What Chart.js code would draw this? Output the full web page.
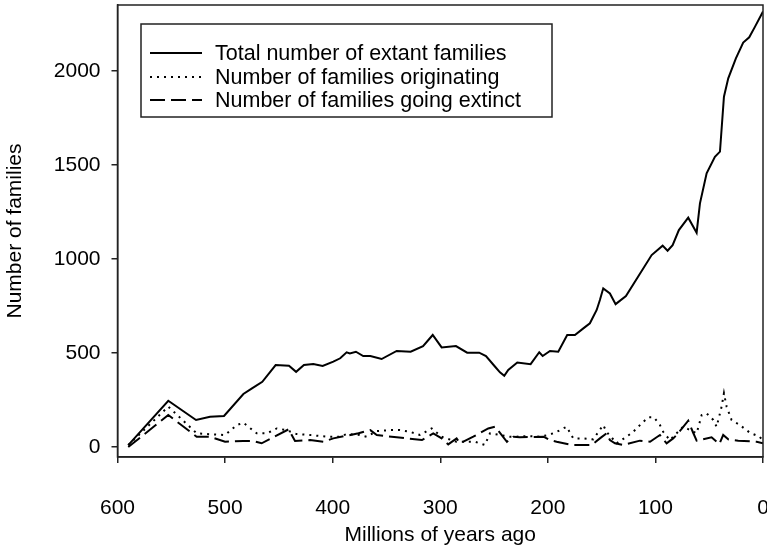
<!DOCTYPE html>
<html>
<head>
<meta charset="utf-8">
<script src="https://cdn.jsdelivr.net/npm/chart.js@4"></script>
<style>
  html, body { margin: 0; padding: 0; background: #fff; }
  #wrap { width: 767px; height: 548px; }
</style>
</head>
<body>
<div id="wrap"><canvas id="familiesChart" width="767" height="548"></canvas></div>
<script>
// ages (Ma) and values
const totalAges = [590, 552.8, 527, 514, 501, 483, 475, 465.4, 453, 440.6, 434, 426.7, 418, 409.3, 399.4, 393, 387, 384, 378.4, 371.6, 365, 354.5, 340.5, 327.5, 316, 307, 298.7, 285.4, 275, 263.8, 257.5, 249, 244.5, 240.5, 236.8, 228.4, 216, 208, 204.8, 198, 190.3, 182, 174.8, 167, 160.9, 154.6, 151.6, 148.5, 142.3, 137, 127.4, 103.5, 93.3, 88.7, 84, 78.2, 69.5, 61.7, 58.6, 52.4, 44.7, 40, 36.3, 32.3, 25.2, 18.4, 12.8, 7.4, 0];
const totalFamilies = [10, 246, 144, 161, 165, 282, 312, 347, 436, 432, 400, 436, 441, 431, 454, 472, 504, 498, 507, 484, 484, 468, 511, 507, 537, 596, 530, 537, 502, 502, 484, 427, 397, 379, 410, 450, 441, 504, 484, 511, 507, 596, 596, 631, 658, 729, 782, 844, 817, 760, 803, 1021, 1071, 1044, 1074, 1154, 1220, 1140, 1296, 1456, 1544, 1571, 1863, 1961, 2067, 2151, 2179, 2236, 2316];

const originAges = [590, 552.8, 526.4, 514, 500, 489, 483, 470.6, 461, 452, 443, 433.5, 421, 405.6, 393, 387, 375, 368.4, 359, 346.7, 337.5, 328, 319, 308, 298.7, 284.8, 275.5, 267.8, 258.5, 253.8, 244.5, 235.3, 229, 218.2, 207.3, 199.6, 193.4, 182.5, 176.4, 167, 157.8, 148.5, 145.5, 136, 126.8, 120.6, 112.8, 106.6, 101.4, 95.8, 92.8, 86.6, 80.3, 74.2, 61.7, 57, 52.4, 46.2, 43.1, 38.5, 36.3, 33.8, 29.2, 21.5, 12.2, 3, 0];
const originFamilies = [10, 215, 73, 68, 64, 117, 129, 73, 73, 99, 90, 69, 64, 55, 55, 69, 64, 55, 85, 90, 90, 81, 64, 99, 55, 28, 28, 28, 11, 73, 64, 55, 55, 58, 55, 64, 76, 108, 46, 46, 41, 117, 81, 20, 55, 81, 126, 158, 158, 117, 81, 37, 73, 108, 73, 170, 179, 144, 108, 214, 286, 214, 144, 117, 76, 55, 30];

const extinctAges = [590, 552.8, 526.4, 514, 500, 483, 474, 466, 455, 441, 435, 421, 408.7, 399.4, 376, 365, 359, 340.5, 317, 306.5, 298.7, 292.6, 284.8, 281.7, 269.3, 255.4, 249, 238, 232, 226, 204, 198, 191.8, 178, 159.3, 151.6, 145.5, 142.3, 137.6, 130, 114.4, 105, 95.8, 89.6, 83.5, 80.3, 69.5, 64.9, 61.7, 47.8, 40.6, 37, 32.3, 23, 5.9, 0];
const extinctFamilies = [0, 170, 55, 55, 28, 32, 32, 20, 52, 94, 32, 37, 28, 46, 73, 90, 64, 52, 37, 73, 46, 14, 46, 20, 55, 99, 108, 28, 55, 52, 55, 37, 28, 11, 11, 46, 73, 37, 20, 11, 34, 28, 64, 20, 46, 64, 140, 76, 34, 52, 16, 64, 41, 34, 28, 20];

const seriesLabels = ['Total number of extant families', 'Number of families originating', 'Number of families going extinct'];
const yTicks = [0, 500, 1000, 1500, 2000];
const xTicks = [600, 500, 400, 300, 200, 100, 0];

function pairs(xs, ys) {
    return xs.map(function(x, i) { return { x: x, y: ys[i] }; });
}

const FONT = '"Liberation Sans", Arial, Helvetica, sans-serif';

// box around the plot and the legend in its top-left corner
const framePlugin = {
    id: 'frame',
    afterDraw: function(chart) {
        const ctx = chart.ctx;
        const a = chart.chartArea;
        ctx.save();
        ctx.strokeStyle = '#222';
        ctx.lineWidth = 1.5;
        ctx.setLineDash([]);
        ctx.strokeRect(a.left, a.top, a.right - a.left, a.bottom - a.top);

        // legend
        const bx = 141, by = 24, bw = 411, bh = 93;
        ctx.fillStyle = '#fff';
        ctx.fillRect(bx, by, bw, bh);
        ctx.strokeRect(bx, by, bw, bh);
        const rows = [53, 77, 100];
        ctx.font = '21.5px ' + FONT;
        ctx.textBaseline = 'middle';
        chart.data.datasets.forEach(function(ds, i) {
            ctx.strokeStyle = '#000';
            ctx.lineWidth = 2;
            ctx.setLineDash(ds.borderDash || []);
            ctx.beginPath();
            ctx.moveTo(150, rows[i]);
            ctx.lineTo(202, rows[i]);
            ctx.stroke();
            ctx.setLineDash([]);
            ctx.fillStyle = '#000';
            ctx.fillText(ds.label, 215, rows[i] + 1);
        });
        ctx.restore();
    }
};

const ctx = document.getElementById('familiesChart').getContext('2d');
const familiesChart = new Chart(ctx, {
    type: 'line',
    data: {
        datasets: [
            {
                label: seriesLabels[0],
                data: pairs(totalAges, totalFamilies),
                borderColor: '#000',
                borderWidth: 2,
                pointRadius: 0,
                tension: 0
            },
            {
                label: seriesLabels[1],
                data: pairs(originAges, originFamilies),
                borderColor: '#000',
                borderWidth: 2,
                borderDash: [2, 5],
                pointRadius: 0,
                tension: 0
            },
            {
                label: seriesLabels[2],
                data: pairs(extinctAges, extinctFamilies),
                borderColor: '#000',
                borderWidth: 2,
                borderDash: [15, 6],
                pointRadius: 0,
                tension: 0
            }
        ]
    },
    options: {
        responsive: false,
        animation: false,
        devicePixelRatio: 1,
        layout: { padding: { left: 0, top: 5, right: 4, bottom: 0 } },
        plugins: {
            legend: { display: false },
            tooltip: { enabled: false }
        },
        scales: {
            x: {
                type: 'linear',
                reverse: true,
                min: 0,
                max: 600,
                afterFit: function(scale) {
                    scale.height = 91;
                    scale.paddingLeft = 0;
                    scale.paddingRight = 0;
                },
                afterBuildTicks: function(scale) { scale.ticks = xTicks.map(function(v) { return { value: v }; }); },
                border: { display: true, color: '#222', width: 1.5 },
                grid: { drawOnChartArea: false, drawTicks: true, tickLength: 6, color: '#222', lineWidth: 1.5 },
                ticks: { color: '#000', padding: 33, font: { family: FONT, size: 21 }, callback: function(v) { return String(v); } },
                title: { display: true, text: 'Millions of years ago', color: '#000', padding: { top: 0, bottom: 0 }, font: { family: FONT, size: 21 } }
            },
            y: {
                type: 'linear',
                min: -53,
                max: 2351,
                afterFit: function(scale) {
                    scale.width = 117.5;
                    scale.paddingTop = 0;
                    scale.paddingBottom = 0;
                },
                afterBuildTicks: function(scale) { scale.ticks = yTicks.map(function(v) { return { value: v }; }); },
                border: { display: true, color: '#222', width: 1.5 },
                grid: { drawOnChartArea: false, drawTicks: true, tickLength: 6, color: '#222', lineWidth: 1.5 },
                ticks: { color: '#000', padding: 11, font: { family: FONT, size: 21 }, callback: function(v) { return String(v); } },
                title: { display: true, text: 'Number of families', color: '#000', padding: { top: 3, bottom: 0 }, font: { family: FONT, size: 21 } }
            }
        }
    },
    plugins: [framePlugin]
});
</script>
</body>
</html>
